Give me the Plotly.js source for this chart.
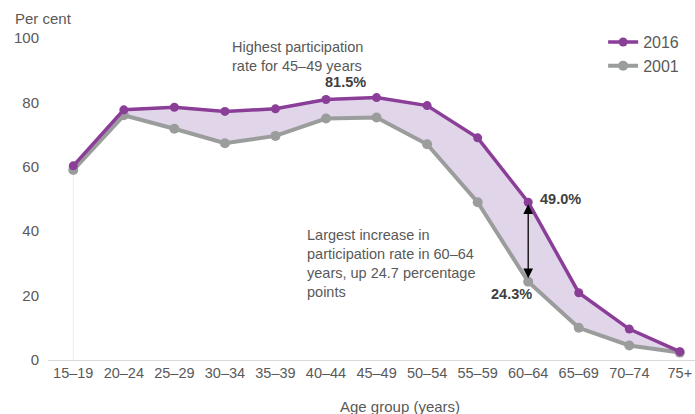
<!DOCTYPE html>
<html>
<head>
<meta charset="utf-8">
<script src="https://cdn.plot.ly/plotly-3.0.1.min.js"></script>
<style>html,body{margin:0;padding:0;background:#fff;}#chart{width:695px;height:414px;}</style>
</head>
<body>
<div id="chart"></div>
<script>
const ageGroups = ["15–19","20–24","25–29","30–34","35–39","40–44","45–49","50–54","55–59","60–64","65–69","70–74","75+"];
const rate2016 = [60.3, 77.7, 78.5, 77.2, 78.0, 80.9, 81.5, 79.0, 69.0, 49.0, 20.9, 9.6, 2.6];
const rate2001 = [59.0, 76.0, 71.8, 67.3, 69.6, 75.0, 75.3, 67.0, 49.0, 24.3, 10.0, 4.5, 2.3];
const seriesNames = ["2001", "2016"];

const purple = "#8B3E98";
const grey = "#9B9D9D";
const fillCol = "#E1D5EA";
const txt = "#595959";
const fam = "'Liberation Sans', Arial, sans-serif";

const traces = [
  {
    x: ageGroups, y: rate2001, name: seriesNames[0], legendgroup: "a", type: "scatter", mode: "lines+markers",
    line: {color: grey, width: 4}, marker: {color: grey, size: 10},
    cliponaxis: false, hoverinfo: "skip"
  },
  {
    x: ageGroups, y: rate2016, name: "band", showlegend: false, type: "scatter", mode: "lines",
    fill: "tonexty", fillcolor: fillCol, line: {width: 0, color: fillCol},
    hoverinfo: "skip"
  },
  {
    x: ageGroups, y: rate2016, name: seriesNames[1], legendgroup: "b", type: "scatter", mode: "lines+markers",
    line: {color: purple, width: 3.5}, marker: {color: purple, size: 9},
    cliponaxis: false, hoverinfo: "skip"
  }
];

const i45 = ageGroups.indexOf("45–49");
const i60 = ageGroups.indexOf("60–64");

const layout = {
  width: 695, height: 414,
  margin: {l: 48, r: 0, t: 37.5, b: 54},
  paper_bgcolor: "#fff", plot_bgcolor: "#fff",
  font: {family: fam, color: txt, size: 15},
  showlegend: true,
  legend: {x: 0.858, y: 1.04, xanchor: "left", yanchor: "top", traceorder: "reversed",
           font: {size: 16, color: txt}, bgcolor: "rgba(0,0,0,0)", tracegroupgap: 3},
  xaxis: {
    type: "category", range: [-0.5, 12.3],
    showline: true, linecolor: "#D9D9D9", linewidth: 1,
    showgrid: false, zeroline: false, ticks: "",
    tickfont: {size: 14.5, color: txt}, fixedrange: true
  },
  yaxis: {
    range: [0, 100], tickvals: [0, 20, 40, 60, 80, 100],
    showline: false, showgrid: false, zeroline: false, ticks: "",
    ticklabelstandoff: 8,
    tickfont: {size: 15, color: txt}, fixedrange: true
  },
  shapes: [
    {type: "line", xref: "x", yref: "y", x0: ageGroups[0], x1: ageGroups[0], y0: 0, y1: rate2001[0],
     line: {color: "#EBEBEB", width: 1}, layer: "below"}
  ],
  annotations: [
    {text: "Per cent", xref: "paper", yref: "paper", x: -0.054, y: 1.06, xanchor: "left", yanchor: "middle",
     showarrow: false, font: {size: 15, color: txt}},
    {text: "Age group (years)", xref: "paper", yref: "paper", x: 0.544, y: -0.143, xanchor: "center", yanchor: "middle",
     showarrow: false, font: {size: 15, color: txt}},
    {text: "Highest participation<br>rate for 45–49 years", xref: "paper", yref: "paper", x: 0.281, y: 0.943,
     xanchor: "left", yanchor: "middle", align: "left", showarrow: false, font: {size: 14.5, color: txt}},
    {text: "<b>" + rate2016[i45].toFixed(1) + "%</b>", xref: "x", yref: "y", x: ageGroups[i45], y: rate2016[i45],
     xshift: -31, yshift: 16, showarrow: false, font: {size: 14.5, color: "#404040"}},
    {text: "<b>" + rate2016[i60].toFixed(1) + "%</b>", xref: "x", yref: "y", x: ageGroups[i60], y: rate2016[i60],
     xanchor: "left", xshift: 10, yshift: 3, showarrow: false, font: {size: 14.5, color: "#404040"}},
    {text: "<b>" + rate2001[i60].toFixed(1) + "%</b>", xref: "x", yref: "y", x: ageGroups[i60], y: rate2001[i60],
     xanchor: "right", xshift: 6, yshift: -12, showarrow: false, font: {size: 14.5, color: "#404040"}},
    {text: "Largest increase in<br>participation rate in 60–64<br>years, up 24.7 percentage<br>points",
     xref: "paper", yref: "paper", x: 0.397, y: 0.299, xanchor: "left", yanchor: "middle", align: "left",
     showarrow: false, font: {size: 14.5, color: txt}},
    {text: "", xref: "x", yref: "y", axref: "x", ayref: "y",
     x: i60, y: rate2016[i60] - 0.6, ax: i60, ay: rate2001[i60] + 0.6,
     showarrow: true, arrowside: "end+start", arrowhead: 2, startarrowhead: 2,
     arrowsize: 1.5, startarrowsize: 1.5, arrowwidth: 1.3, arrowcolor: "#000", standoff: 0, startstandoff: 0}
  ]
};

Plotly.newPlot("chart", traces, layout, {displayModeBar: false, staticPlot: true});
</script>
</body>
</html>
